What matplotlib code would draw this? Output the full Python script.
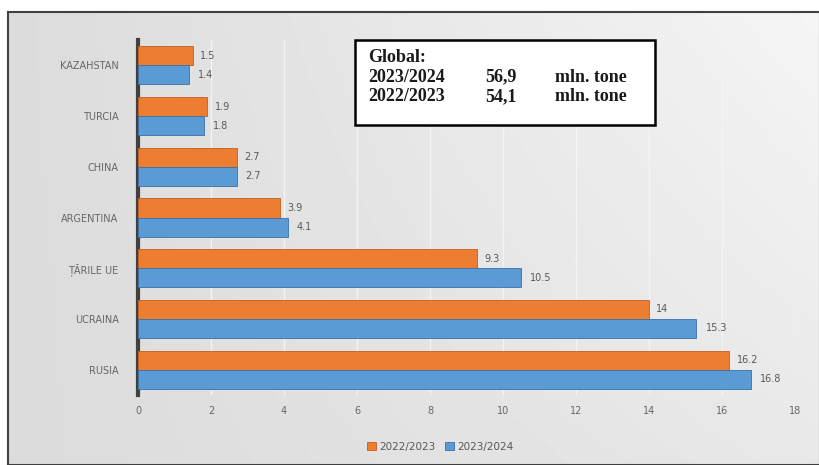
import numpy as np
import matplotlib.pyplot as plt
from matplotlib.patches import Rectangle

# data
countries = ['KAZAHSTAN', 'TURCIA', 'CHINA', 'ARGENTINA', 'ȚĂRILE UE', 'UCRAINA', 'RUSIA']
val_2223 = [1.5, 1.9, 2.7, 3.9, 9.3, 14, 16.2]
val_2324 = [1.4, 1.8, 2.7, 4.1, 10.5, 15.3, 16.8]
labels_2223 = ['1.5', '1.9', '2.7', '3.9', '9.3', '14', '16.2']
labels_2324 = ['1.4', '1.8', '2.7', '4.1', '10.5', '15.3', '16.8']
series_names = ['2022/2023', '2023/2024']
box_title = 'Global:'
box_years = ['2023/2024', '2022/2023']
box_totals = ['56,9', '54,1']
box_unit = 'mln. tone'

orange = '#ED7D31'
blue = '#5B9BD5'

fig = plt.figure(figsize=(8.2, 4.65), dpi=100)
fig.patch.set_facecolor('white')

# gray gradient background inside the frame
bg = fig.add_axes([8/820, 0, 1 - 8/820, 1 - 12/465], zorder=-10)
gx = np.linspace(0, 1, 200)
gy = np.linspace(0, 1, 100)
GX, GY = np.meshgrid(gx, gy)
grad = 0.86 + 0.10 * GX * (1 - 0.5 * GY)
bg.imshow(grad, cmap='gray', vmin=0, vmax=1, aspect='auto', extent=[0, 1, 0, 1])
bg.set_xticks([])
bg.set_yticks([])
for s in bg.spines.values():
    s.set_color('#404040')
    s.set_linewidth(1.5)

ax = fig.add_axes([138/820, 70/465, 657/820, 355/465])
ax.patch.set_alpha(0)

y = np.arange(len(countries))
h = 0.375
ax.barh(y - h/2, val_2223, height=h, color=orange, edgecolor='#c45f1c', linewidth=0.6,
        label=series_names[0], zorder=3)
ax.barh(y + h/2, val_2324, height=h, color=blue, edgecolor='#3a70a8', linewidth=0.6,
        label=series_names[1], zorder=3)

for i in range(len(countries)):
    ax.text(val_2223[i] + 0.2, y[i] - h/2, labels_2223[i], va='center', ha='left',
            fontsize=7, color='#595959')
    ax.text(val_2324[i] + 0.25, y[i] + h/2, labels_2324[i], va='center', ha='left',
            fontsize=7, color='#595959')

ax.set_xlim(0, 18)
ax.set_ylim(len(countries) - 0.5, -0.5)
ax.set_xticks(range(0, 19, 2))
ax.set_yticks(y)
ax.set_yticklabels(countries)
ax.tick_params(axis='both', length=0, labelsize=7, colors='#666666')
ax.tick_params(axis='y', pad=14)
ax.tick_params(axis='x', pad=8)
ax.grid(axis='x', color='#f4f4f4', linewidth=1, zorder=0)
for side in ['top', 'right', 'bottom']:
    ax.spines[side].set_visible(False)
ax.spines['left'].set_color('#404040')
ax.spines['left'].set_linewidth(3)

# text box with global totals
box = Rectangle((355/820, 1 - 125/465), 300/820, 85/465, transform=fig.transFigure,
                facecolor='white', edgecolor='black', linewidth=1.8, zorder=5)
fig.patches.append(box)
tkw = dict(va='baseline', ha='left', fontsize=13, family='Liberation Serif',
           fontweight='bold', color='#1a1a1a', zorder=6)
fig.text(368/820, 1 - 62/465, box_title, **tkw)
for k in range(2):
    yb = 1 - (81.5 + 19.5 * k) / 465
    fig.text(368/820, yb, box_years[k], **tkw)
    fig.text(485/820, yb, box_totals[k], **tkw)
    fig.text(555/820, yb, box_unit, **tkw)

ax.legend(loc='upper center', bbox_to_anchor=(0.46, -0.105), ncol=2, frameon=False,
          fontsize=7.5, handlelength=0.8, handleheight=0.8, columnspacing=1.0,
          handletextpad=0.3, labelcolor='#595959')

fig.savefig('out.png', dpi=100)
